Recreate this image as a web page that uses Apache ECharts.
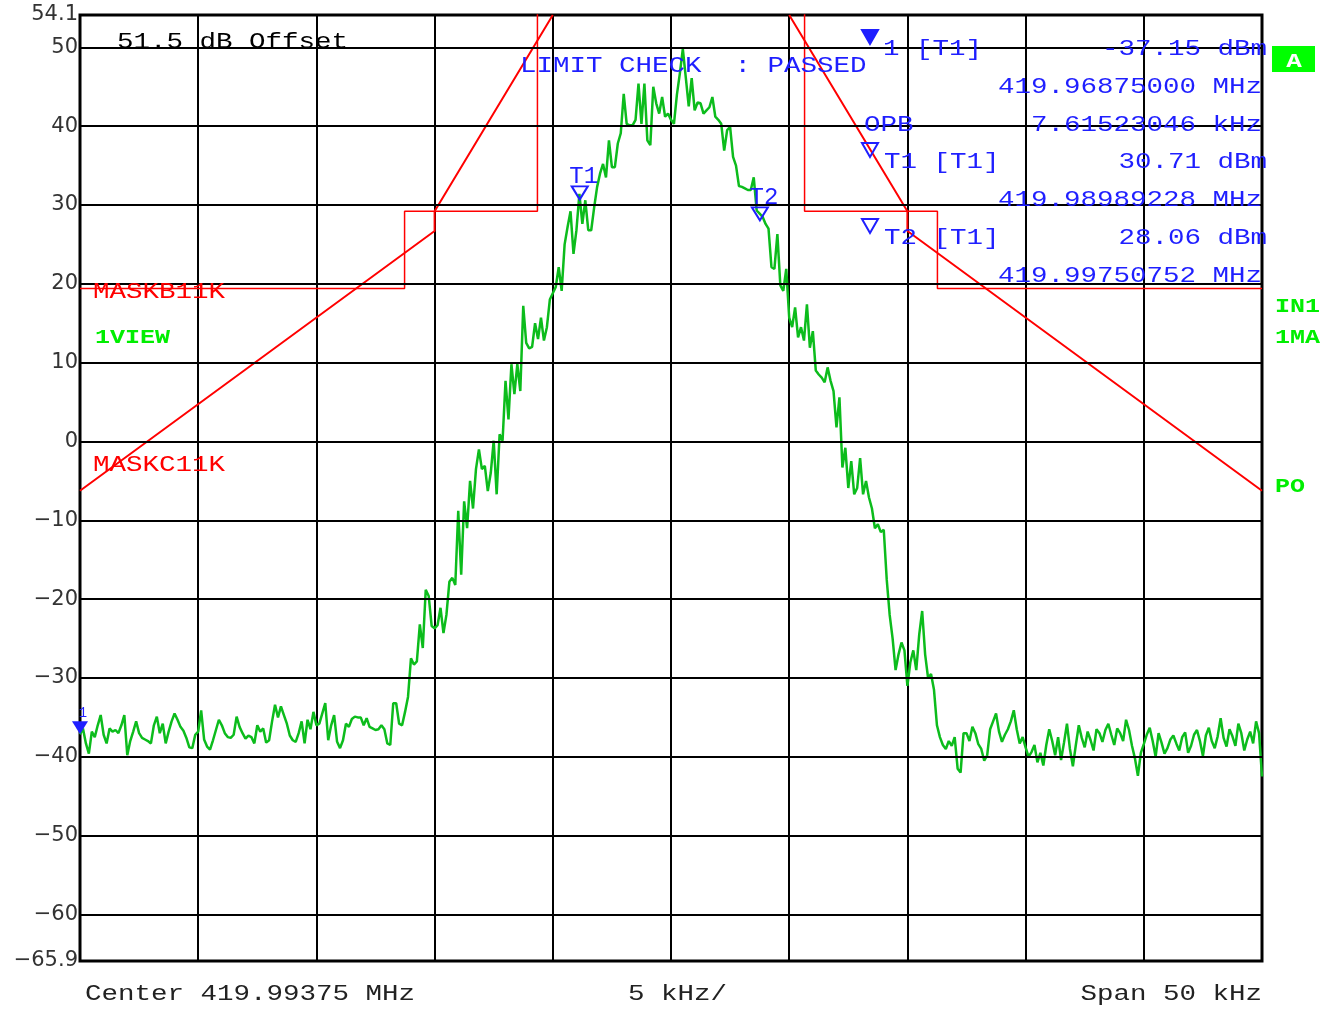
<!DOCTYPE html>
<html><head><meta charset="utf-8">
<script src="https://cdn.jsdelivr.net/npm/echarts@6/dist/echarts.min.js"></script>
<style>html,body{margin:0;padding:0;background:#fff}#c{width:1321px;height:1009px}</style>
</head><body><div id="c"></div>
<script>
// Frequency axis: kHz offset from centre 419.99375 MHz, span 50 kHz
const freqStart = -25;
const freqStep = 0.125;
const traceLevels = [
 -37.15,-36.4,-38.3,-39.6,-36.8,-37.5,-36.0,-34.7,-37.2,-38.3,
 -36.4,-36.8,-36.6,-37.0,-36.0,-34.7,-39.8,-38.0,-36.8,-35.5,
 -37.0,-37.6,-37.8,-38.0,-38.3,-36.0,-34.9,-37.0,-35.8,-38.3,
 -36.8,-35.5,-34.5,-35.3,-36.2,-36.7,-37.6,-38.8,-38.9,-37.2,
 -36.8,-34.1,-37.8,-38.7,-39.1,-37.9,-36.6,-35.3,-36.0,-37.0,
 -37.5,-37.6,-37.2,-34.9,-36.2,-37.0,-37.7,-37.3,-37.5,-38.3,
 -36.0,-36.8,-36.4,-38.2,-37.9,-35.5,-33.4,-35.0,-33.6,-34.7,
 -35.8,-37.3,-37.9,-38.1,-37.0,-35.5,-38.3,-35.3,-36.5,-34.3,
 -36.0,-35.8,-34.5,-33.2,-37.9,-36.0,-34.7,-38.1,-38.9,-37.9,
 -35.8,-36.2,-35.2,-34.9,-35.0,-35.0,-36.0,-35.1,-36.2,-36.4,
 -36.6,-36.5,-36.0,-36.5,-38.3,-38.5,-33.2,-33.2,-35.8,-36.0,
 -34.3,-32.4,-27.5,-28.3,-27.9,-23.2,-26.2,-18.8,-19.6,-23.4,
 -23.7,-23.3,-21.1,-24.3,-22.0,-17.8,-17.3,-18.2,-8.8,-16.9,
 -7.6,-11.0,-5.0,-8.5,-3.5,-1.0,-3.5,-3.1,-6.3,-4.0,
 0.1,-6.7,0.9,0.1,7.7,2.8,9.8,6.0,9.8,6.4,
 17.2,12.5,11.8,12.0,15.0,13.0,15.7,12.8,14.5,18.0,
 18.8,19.6,22.1,19.1,25.0,27.2,29.2,23.8,26.8,31.4,
 27.6,30.6,26.8,26.8,29.7,32.3,34.0,35.2,33.5,38.2,
 34.8,34.8,37.8,39.1,44.1,40.3,40.1,40.1,40.8,45.4,
 40.3,45.4,38.2,37.6,45.0,42.9,41.6,43.7,41.2,41.6,
 40.8,40.3,44.0,46.7,49.8,46.2,42.5,46.1,42.0,43.0,
 42.9,41.6,42.0,42.4,43.7,41.2,40.8,40.3,36.9,39.5,
 39.9,36.1,35.0,32.4,32.3,32.1,31.9,31.9,33.5,29.3,
 28.9,28.5,27.6,27.0,22.1,21.9,26.3,19.8,19.1,21.9,
 15.7,14.5,17.0,13.2,14.5,12.8,17.4,11.9,14.0,9.0,
 8.5,8.1,7.5,9.4,7.7,6.4,1.8,5.6,-3.3,-0.8,
 -5.9,-2.5,-6.7,-5.9,-2.1,-6.7,-5.0,-7.1,-8.5,-11.0,
 -10.5,-11.5,-11.2,-17.5,-22.0,-25.0,-29.0,-27.0,-25.5,-26.5,
 -31.0,-28.0,-26.5,-29.0,-24.5,-21.5,-27.0,-30.0,-29.5,-31.5,
 -36.0,-37.5,-38.5,-39.0,-38.0,-38.6,-37.5,-41.5,-42.0,-37.0,
 -37.0,-38.0,-36.2,-37.0,-38.4,-39.0,-40.5,-39.8,-36.5,-35.5,
 -34.5,-36.8,-38.1,-37.2,-36.5,-35.5,-34.1,-36.5,-38.3,-37.5,
 -38.8,-40.0,-39.4,-38.5,-40.7,-39.5,-41.1,-38.5,-36.5,-38.0,
 -39.8,-37.5,-40.4,-38.2,-35.8,-39.0,-41.2,-38.5,-36.0,-37.6,
 -38.8,-36.8,-37.9,-39.2,-36.5,-37.0,-38.1,-36.6,-35.8,-37.2,
 -38.5,-36.4,-37.0,-38.0,-35.3,-36.6,-38.6,-40.2,-42.4,-39.5,
 -38.4,-37.2,-36.3,-38.0,-40.0,-37.0,-38.2,-39.6,-38.9,-37.8,
 -37.3,-38.3,-39.2,-37.5,-36.9,-39.5,-38.6,-37.2,-36.6,-38.0,
 -39.9,-37.3,-36.3,-38.0,-38.9,-37.4,-35.1,-37.6,-38.7,-36.5,
 -37.4,-38.6,-35.8,-37.0,-39.2,-37.8,-36.8,-38.3,-35.5,-37.0,
 -42.5
];
const yTickLabels = [54.1,50,40,30,20,10,0,-10,-20,-30,-40,-50,-60,-65.9];
const gridLevels = [50,40,30,20,10,0,-10,-20,-30,-40,-50,-60];
// Limit line MASKB11K (upper step mask)
const maskBLeftFreq = [-25,-11.27,-11.27,-5.65,-5.65];
const maskBLeftLevel = [19.4,19.4,29.2,29.2,60];
const maskBRightFreq = [5.65,5.65,11.27,11.27,25];
const maskBRightLevel = [60,29.2,29.2,19.4,19.4];
// Limit line MASKC11K
const maskCLeftFreq = [-25,-10,-10,-5];
const maskCLeftLevel = [-6.25,26.7,29.2,54.1];
const maskCRightFreq = [5,10,10,25];
const maskCRightLevel = [54.1,29.2,26.7,-6.25];
// Markers
const markerNames = ['1','T1','T2'];
const markerFreq = [-25,-3.86,3.76];
const markerLevel = [-37.15,30.71,28.06];

const BLUE = '#1f1fff', RED = '#ff0000', GREEN = '#00ee00', TRACE = '#0cbc1c';
const MONO = '"Liberation Mono", monospace';

function pairs(xs, ys){ return xs.map((x,i)=>[x, ys[i]]); }
function txt(x, y, text, align, color, bold, size){
  const font = (bold ? 'bold ' : '') + (size||22) + 'px ' + MONO;
  return {type:'text', x:x, y:y, scaleX:1.25, z:100,
    style:{text:text, x:0, y:0, font:font, fill:color,
      textAlign:align, textVerticalAlign:'middle', align:align, verticalAlign:'middle'}};
}
function tri(cx, cy, filled){
  return {type:'polygon', z:100,
    shape:{points:[[cx-8,cy-7],[cx+8,cy-7],[cx,cy+7]]},
    style:{fill: filled ? BLUE : 'none', stroke:BLUE, lineWidth:2}};
}

const chart = echarts.init(document.getElementById('c'));
const traceData = traceLevels.map((v,i)=>[freqStart + i*freqStep, v]);
const triPath = 'path://M0,0 L16,0 L8,13 Z';

chart.setOption({
  animation:false,
  backgroundColor:'#fff',
  grid:{left:80, right:59, top:15, bottom:48, show:true, borderColor:'#000', borderWidth:3, backgroundColor:'#fff'},
  xAxis:{type:'value', min:-25, max:25, interval:5,
    axisLabel:{show:false}, axisTick:{show:false}, axisLine:{show:false},
    splitLine:{show:true, lineStyle:{color:'#000', width:2}}},
  yAxis:{type:'value', min:-65.9, max:54.1,
    axisLine:{show:false}, axisTick:{show:false}, splitLine:{show:false},
    axisLabel:{show:true, customValues:yTickLabels, margin:2, color:'#333',
      fontFamily:'"DejaVu Sans"', fontSize:21,
      formatter:v=>String(Math.round(v*10)/10).replace('-', '\u2212')}},
  series:[
    {type:'line', data:[], silent:true, z:1,
     markLine:{silent:true, symbol:'none', label:{show:false}, animation:false,
       lineStyle:{color:'#000', width:2, type:'solid'},
       data:gridLevels.map(v=>({yAxis:v}))}},
    {type:'line', data:pairs(maskBLeftFreq, maskBLeftLevel), showSymbol:false, silent:true, z:3,
     lineStyle:{color:RED, width:1.5}},
    {type:'line', data:pairs(maskBRightFreq, maskBRightLevel), showSymbol:false, silent:true, z:3,
     lineStyle:{color:RED, width:1.5}},
    {type:'line', data:pairs(maskCLeftFreq, maskCLeftLevel), showSymbol:false, silent:true, z:3,
     lineStyle:{color:RED, width:2}},
    {type:'line', data:pairs(maskCRightFreq, maskCRightLevel), showSymbol:false, silent:true, z:3,
     lineStyle:{color:RED, width:2}},
    {type:'line', data:traceData, showSymbol:false, silent:true, z:4,
     lineStyle:{color:TRACE, width:2.5},
     markPoint:{silent:true, animation:false,
       data:markerNames.map((n,i)=>({
         name:n, coord:[markerFreq[i], markerLevel[i]],
         symbol:triPath, symbolSize:[16,13], symbolOffset:[0,'-50%'],
         itemStyle:{color: i===0 ? BLUE : 'rgba(0,0,0,0)', borderColor:BLUE, borderWidth: i===0 ? 0 : 2},
         label:{show:true, position:'top', distance: i===0 ? 1 : -3, offset: i===0 ? [3,0] : [4,0],
           formatter:n, color:BLUE, fontFamily:MONO, fontSize: i===0 ? 14 : 24}
       }))}}
  ],
  graphic:[
    txt(117, 42, '51.5 dB Offset', 'left', '#000'),
    txt(520, 66, 'LIMIT CHECK  : PASSED', 'left', BLUE),
    tri(870, 37, true),
    txt(883, 49, '1 [T1]', 'left', BLUE),
    txt(1267, 49, '-37.15 dBm', 'right', BLUE),
    txt(1262, 87, '419.96875000 MHz', 'right', BLUE),
    txt(864, 125, 'OPB', 'left', BLUE),
    txt(1262, 125, '7.61523046 kHz', 'right', BLUE),
    tri(870, 150, false),
    txt(884, 162, 'T1 [T1]', 'left', BLUE),
    txt(1267, 162, '30.71 dBm', 'right', BLUE),
    txt(1262, 200, '419.98989228 MHz', 'right', BLUE),
    tri(870, 226, false),
    txt(884, 238, 'T2 [T1]', 'left', BLUE),
    txt(1267, 238, '28.06 dBm', 'right', BLUE),
    txt(1262, 276, '419.99750752 MHz', 'right', BLUE),
    {type:'rect', z:100, shape:{x:1272, y:46, width:43, height:26}, style:{fill:'#00ff00'}},
    {type:'text', z:101, x:1294, y:62, scaleX:1.3,
     style:{text:'A', font:'bold 20px ' + MONO, fill:'#fff', textAlign:'center', textVerticalAlign:'middle', align:'center', verticalAlign:'middle'}},
    txt(1275, 307, 'IN1', 'left', GREEN, true, 20),
    txt(1275, 338, '1MA', 'left', GREEN, true, 20),
    txt(1275, 487, 'PO', 'left', GREEN, true, 20),
    txt(93, 292, 'MASKB11K', 'left', RED),
    txt(95, 338, '1VIEW', 'left', GREEN, true, 20),
    txt(93, 465, 'MASKC11K', 'left', RED),
    txt(85, 994, 'Center 419.99375 MHz', 'left', '#222'),
    txt(628, 994, '5 kHz/', 'left', '#222'),
    txt(1262, 994, 'Span 50 kHz', 'right', '#222')
  ]
});
</script>
</body></html>
